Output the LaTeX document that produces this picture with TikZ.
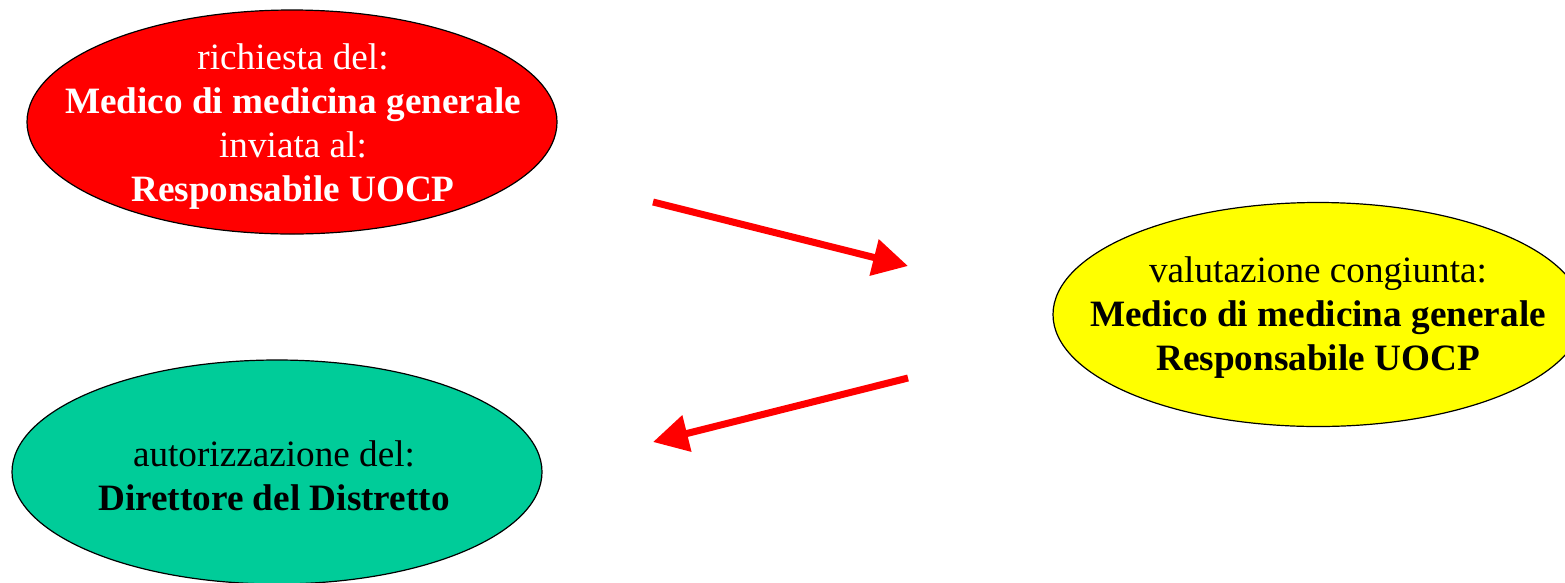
\documentclass[tikz,border=0pt]{standalone}
\usepackage{fontspec}
\setmainfont{Liberation Serif}
\usetikzlibrary{shapes.geometric,arrows.meta}
\definecolor{myred}{HTML}{FF0000}
\definecolor{myyellow}{HTML}{FFFF00}
\definecolor{mygreen}{HTML}{00CC99}
\tikzset{
  bubble/.style={ellipse, draw=black, line width=1.2pt, inner sep=0pt,
    minimum width=530pt, minimum height=224pt},
  bubbletext/.style={align=center, inner sep=0pt,
    font=\fontsize{37.2}{44}\selectfont},
  flow/.style={draw=myred, line width=7pt,
    -{Triangle[length=35pt,width=36pt]}}
}
\begin{document}
\begin{tikzpicture}[x=1pt,y=-1pt]
\useasboundingbox (0,0) rectangle (1565,582);
\node[bubble, fill=myred] (req) at (292,122) {};
\node[bubbletext, text=white] (reqt) at (293,127) {richiesta del:\\\textbf{Medico di medicina generale}\\inviata al:\\\textbf{Responsabile UOCP}};
\node[bubble, fill=myyellow] (val) at (1318,314.5) {};
\node[bubbletext, text=black] (valt) at (1318,318) {valutazione congiunta:\\\textbf{Medico di medicina generale}\\\textbf{Responsabile UOCP}};
\node[bubble, fill=mygreen] (aut) at (277,472) {};
\node[bubbletext, text=black] (autt) at (274,476) {autorizzazione del:\\\textbf{Direttore del Distretto}};
\coordinate (a1s) at (653,202);
\coordinate (a1e) at (908,266);
\coordinate (a2s) at (908,378);
\coordinate (a2e) at (653,442);
\draw[flow] (a1s) -- (a1e);
\draw[flow] (a2s) -- (a2e);
\end{tikzpicture}
\end{document}
